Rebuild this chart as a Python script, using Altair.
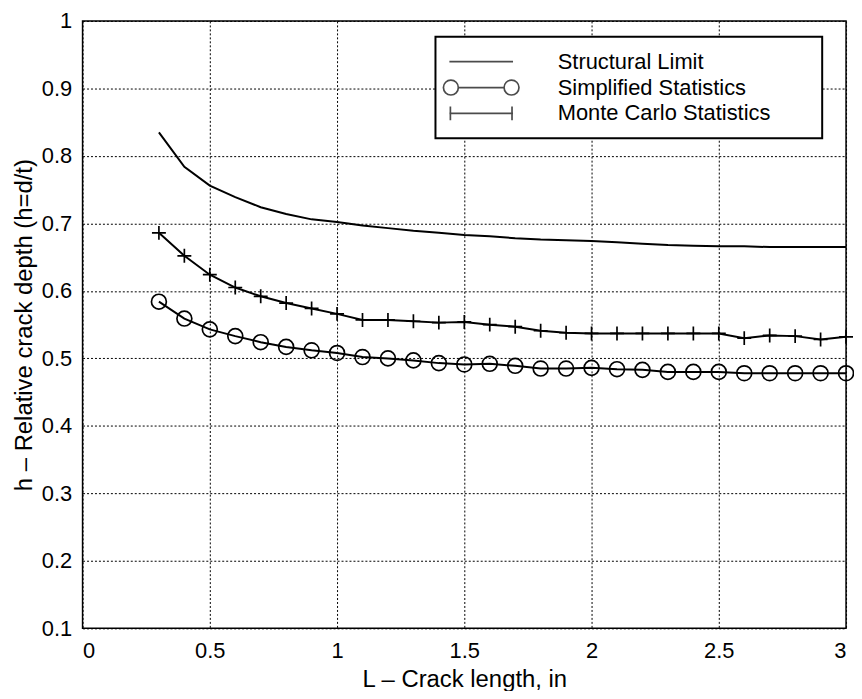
import altair as alt
import pandas as pd

# ---- data ----
crack_length = [0.3, 0.4, 0.5, 0.6, 0.7, 0.8, 0.9, 1.0, 1.1, 1.2, 1.3, 1.4, 1.5, 1.6,
                1.7, 1.8, 1.9, 2.0, 2.1, 2.2, 2.3, 2.4, 2.5, 2.6, 2.7, 2.8, 2.9, 3.0]
structural_limit = [0.835, 0.784, 0.756, 0.739, 0.724, 0.714, 0.706, 0.702, 0.697, 0.693,
                    0.689, 0.686, 0.683, 0.681, 0.678, 0.676, 0.675, 0.674, 0.672, 0.670,
                    0.668, 0.667, 0.666, 0.666, 0.665, 0.665, 0.665, 0.665]
simplified_stats = [0.584, 0.559, 0.543, 0.533, 0.524, 0.517, 0.512, 0.508, 0.502, 0.500,
                    0.497, 0.493, 0.491, 0.492, 0.489, 0.485, 0.485, 0.486, 0.484, 0.483,
                    0.480, 0.480, 0.480, 0.478, 0.478, 0.478, 0.478, 0.478]
monte_carlo_stats = [0.686, 0.652, 0.624, 0.605, 0.592, 0.582, 0.574, 0.566, 0.557, 0.557,
                     0.555, 0.553, 0.554, 0.550, 0.547, 0.541, 0.538, 0.537, 0.537, 0.537,
                     0.537, 0.537, 0.537, 0.530, 0.534, 0.533, 0.528, 0.532]
series_names = ["Structural Limit", "Simplified Statistics", "Monte Carlo Statistics"]
x_ticks = [0, 0.5, 1, 1.5, 2, 2.5, 3]
y_ticks = [0.1, 0.2, 0.3, 0.4, 0.5, 0.6, 0.7, 0.8, 0.9, 1.0]

rows = []
for name, vals in zip(series_names, [structural_limit, simplified_stats, monte_carlo_stats]):
    for xv, yv in zip(crack_length, vals):
        rows.append({"L": xv, "h": yv, "series": name})
df = pd.DataFrame(rows)

FONT = "Liberation Sans"

x_enc = alt.X(
    "L:Q",
    scale=alt.Scale(domain=[0, 3], nice=False, zero=False),
    axis=alt.Axis(values=x_ticks, format="~g", title="L \u2013 Crack length, in",
                  labelPadding=12, titlePadding=6, grid=True,
                  gridColor="black", gridDash=[2, 2], gridWidth=1, gridOpacity=1),
)
y_enc = alt.Y(
    "h:Q",
    scale=alt.Scale(domain=[0.1, 1.0], nice=False, zero=False),
    axis=alt.Axis(values=y_ticks, format="~g", title="h \u2013 Relative crack depth  (h=d/t)",
                  labelPadding=11, titlePadding=5, grid=True,
                  gridColor="black", gridDash=[2, 2], gridWidth=1, gridOpacity=1),
)

base = alt.Chart(df)

lines = base.mark_line(color="black", strokeWidth=2).encode(
    x=x_enc, y=y_enc, detail="series:N"
)

circles = base.transform_filter(
    alt.datum.series == "Simplified Statistics"
).mark_point(shape="circle", filled=False, color="black", size=225, strokeWidth=1.7, opacity=1).encode(
    x="L:Q", y="h:Q"
)

plus_path = "M-1,0L1,0M0,-1L0,1"
pluses = base.transform_filter(
    alt.datum.series == "Monte Carlo Statistics"
).mark_point(shape=plus_path, filled=False, color="black", size=196, strokeWidth=1.7, opacity=1).encode(
    x="L:Q", y="h:Q"
)

# legend symbols (unit = 10 px at size 400); trailing move-to widens the legend box
legend_paths = [
    "M-3.2,0L3.2,0M32.5,0",
    "M-2.3,0L2.3,0M-2.3,0A0.75,0.75,0,1,1,-3.8,0A0.75,0.75,0,1,1,-2.3,0"
    "M3.8,0A0.75,0.75,0,1,1,2.3,0A0.75,0.75,0,1,1,3.8,0M32.5,0",
    "M-3.2,0L3.2,0M-3.1,-0.7L-3.1,0.7M3.1,-0.7L3.1,0.7M32.5,0",
]

legend_layer = base.transform_filter("false").mark_point(
    filled=False, color="black", strokeWidth=1.7
).encode(
    x="L:Q",
    y="h:Q",
    shape=alt.Shape(
        "series:N",
        scale=alt.Scale(domain=series_names, range=legend_paths),
        legend=alt.Legend(
            title=None,
            orient="none",
            legendX=355,
            legendY=16,
            padding=14,
            symbolSize=400,
            symbolOffset=21,
            labelOffset=66,
            rowPadding=4,
            symbolStrokeColor="black",
            symbolStrokeWidth=1.7,
            symbolFillColor="transparent",
            labelFont=FONT,
            labelFontSize=22,
            labelColor="black",
            labelLimit=400,
            strokeColor="black",
            fillColor="white",
        ),
    ),
)

chart = alt.layer(lines, circles, pluses, legend_layer).properties(
    width=768,
    height=611,
    autosize=alt.AutoSizeParams(type="none"),
    padding={"left": 75, "top": 11, "right": 8, "bottom": 61},
).configure_view(
    stroke="black", strokeWidth=1.5
).configure_axis(
    domain=False,
    ticks=False,
    labelFont=FONT,
    labelFontSize=22,
    labelColor="black",
    titleFont=FONT,
    titleFontSize=24,
    titleFontWeight="normal",
    titleColor="black",
).configure_legend(
    strokeWidth=2
)

chart.save("out.html", embed_options={"renderer": "svg", "actions": False})
